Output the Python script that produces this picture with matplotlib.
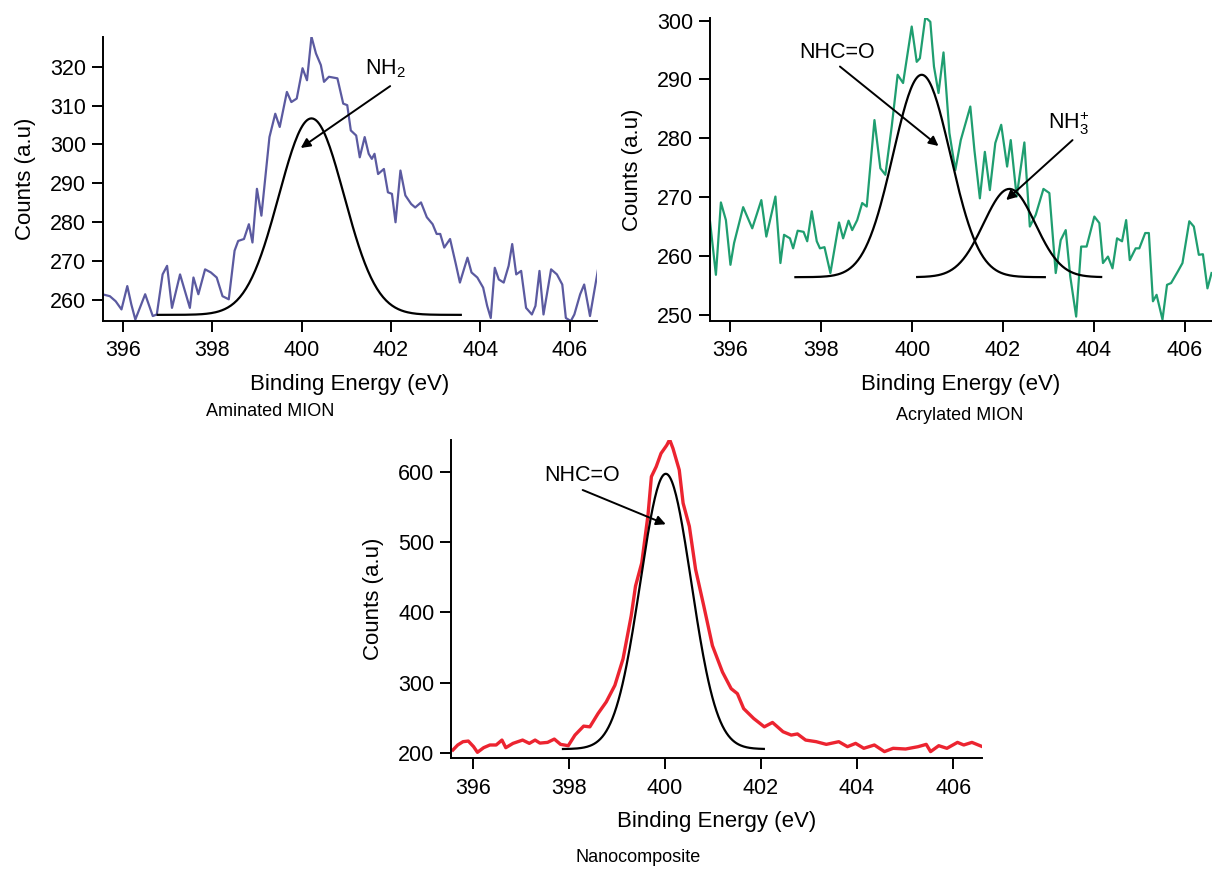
import numpy as np
import matplotlib
matplotlib.use("Agg")
import matplotlib.pyplot as plt

plt.rcParams['font.family'] = 'Liberation Sans'
plt.rcParams['mathtext.fontset'] = 'custom'
plt.rcParams['mathtext.rm'] = 'Liberation Sans'

# N 1s spectra, binding energy (eV) vs counts
amin_ev = [395.54, 395.71, 395.84, 395.97, 396.10, 396.19, 396.28, 396.50, 396.67, 396.76,
           396.89, 396.99, 397.10, 397.28, 397.50, 397.58, 397.69, 397.84, 397.97, 398.10,
           398.23, 398.37, 398.50, 398.58, 398.71, 398.82, 398.90, 399.00, 399.10, 399.28,
           399.41, 399.51, 399.67, 399.77, 399.89, 400.02, 400.12, 400.22, 400.32, 400.43,
           400.50, 400.61, 400.80, 400.93, 401.02, 401.10, 401.22, 401.30, 401.41, 401.50,
           401.57, 401.63, 401.71, 401.84, 401.93, 402.02, 402.10, 402.21, 402.32, 402.45,
           402.54, 402.67, 402.80, 402.93, 403.02, 403.10, 403.19, 403.32, 403.45, 403.54,
           403.63, 403.71, 403.80, 403.93, 404.06, 404.15, 404.23, 404.32, 404.41, 404.52,
           404.63, 404.71, 404.80, 404.91, 405.02, 405.15, 405.23, 405.32, 405.41, 405.58,
           405.71, 405.83, 405.91, 406.02, 406.10, 406.23, 406.32, 406.45, 406.63]
amin_counts = [261.5, 261.0, 259.7, 257.6, 263.6, 258.9, 255.0, 261.5, 255.9, 256.3,
               266.6, 268.8, 258.0, 266.6, 258.0, 265.8, 261.5, 267.9, 267.1, 265.8,
               261.0, 260.2, 272.7, 275.2, 275.7, 279.5, 274.8, 288.6, 281.7, 301.9,
               307.9, 304.5, 313.5, 310.9, 311.8, 319.6, 316.5, 327.7, 323.4, 320.4,
               316.1, 317.4, 317.0, 310.5, 310.1, 303.6, 302.3, 296.7, 301.9, 297.6,
               296.3, 297.6, 292.4, 293.7, 287.7, 287.3, 280.0, 293.3, 286.9, 284.7,
               283.8, 285.1, 281.3, 279.5, 277.0, 277.0, 273.5, 275.7, 269.2, 264.5,
               267.9, 270.9, 267.1, 265.8, 263.2, 258.5, 255.4, 268.3, 265.3, 264.5,
               268.8, 274.4, 266.6, 267.5, 258.0, 256.3, 258.5, 267.5, 256.3, 267.9,
               266.6, 264.0, 255.4, 254.6, 256.3, 261.5, 264.0, 255.9, 267.9]

acryl_ev = [395.55, 395.68, 395.79, 395.90, 396.00, 396.08, 396.28, 396.48, 396.68, 396.79,
            396.99, 397.10, 397.18, 397.31, 397.38, 397.48, 397.61, 397.69, 397.79, 397.90,
            397.97, 398.07, 398.20, 398.39, 398.48, 398.60, 398.68, 398.79, 398.90, 399.00,
            399.17, 399.30, 399.41, 399.55, 399.68, 399.80, 399.99, 400.10, 400.17, 400.29,
            400.40, 400.48, 400.58, 400.69, 400.82, 400.95, 401.07, 401.28, 401.37, 401.49,
            401.60, 401.71, 401.83, 401.96, 402.09, 402.17, 402.30, 402.47, 402.59, 402.72,
            402.89, 403.02, 403.16, 403.27, 403.38, 403.48, 403.61, 403.72, 403.84, 404.01,
            404.12, 404.20, 404.31, 404.41, 404.51, 404.62, 404.71, 404.79, 404.92, 405.00,
            405.13, 405.21, 405.30, 405.38, 405.51, 405.61, 405.70, 405.85, 405.95, 406.10,
            406.20, 406.31, 406.40, 406.50, 406.59]
acryl_counts = [265.9, 256.8, 269.1, 266.1, 258.5, 262.2, 268.3, 264.7, 269.5, 263.3,
                270.1, 258.8, 263.6, 263.0, 261.3, 264.3, 264.1, 262.5, 267.6, 262.5,
                261.3, 261.5, 257.1, 265.7, 263.0, 266.0, 264.4, 266.1, 269.0, 268.4,
                283.1, 274.9, 273.8, 282.0, 290.8, 289.4, 299.0, 293.0, 293.6, 300.6,
                299.8, 292.2, 287.7, 294.6, 280.9, 274.6, 279.7, 285.4, 278.0, 269.8,
                277.7, 271.2, 279.2, 282.3, 275.2, 279.7, 270.1, 279.3, 265.0, 267.0,
                271.4, 270.7, 257.1, 262.7, 264.4, 256.5, 249.7, 261.6, 261.6, 266.7,
                265.6, 258.8, 259.9, 257.9, 263.0, 262.5, 266.1, 259.3, 261.3, 261.3,
                263.9, 263.9, 252.3, 253.4, 249.2, 255.1, 255.4, 257.4, 258.8, 265.9,
                265.0, 260.2, 260.3, 254.5, 257.1]

nano_ev = [395.59, 395.69, 395.80, 395.91, 396.02, 396.10, 396.23, 396.36, 396.49, 396.61,
           396.69, 396.84, 397.04, 397.18, 397.30, 397.40, 397.56, 397.70, 397.83, 397.99,
           398.13, 398.31, 398.44, 398.61, 398.78, 398.96, 399.13, 399.30, 399.39, 399.52,
           399.65, 399.72, 399.82, 399.92, 400.04, 400.10, 400.17, 400.30, 400.38, 400.51,
           400.64, 400.81, 400.99, 401.20, 401.38, 401.51, 401.64, 401.85, 402.07, 402.24,
           402.46, 402.63, 402.76, 402.93, 403.15, 403.36, 403.62, 403.80, 403.97, 404.14,
           404.36, 404.57, 404.75, 405.01, 405.27, 405.44, 405.53, 405.70, 405.87, 406.09,
           406.22, 406.39, 406.61]
nano_counts = [204.7, 211.8, 216.5, 217.4, 209.4, 201.4, 208.0, 211.8, 211.8, 218.8,
               208.0, 214.1, 218.8, 214.1, 218.8, 214.5, 215.5, 220.2, 212.7, 210.8,
               225.9, 238.6, 237.6, 256.5, 272.9, 296.5, 334.1, 395.3, 437.6, 470.6,
               538.8, 592.9, 607.1, 625.9, 637.6, 645.6, 632.9, 602.4, 555.3, 522.4,
               461.2, 409.4, 352.9, 315.3, 291.8, 284.7, 263.5, 249.4, 237.6, 243.8,
               230.6, 225.9, 227.5, 218.8, 216.5, 212.7, 216.5, 209.4, 214.1, 207.1,
               211.8, 202.4, 207.1, 206.1, 209.4, 212.7, 202.4, 210.8, 207.1, 215.5,
               211.8, 215.5, 209.4]

# fitted components: (centre eV, height, width eV, baseline, start eV, end eV)
amin_fits = [(400.22, 306.7, 0.73, 256.2, 396.78, 403.56)]
acryl_fits = [(400.21, 290.8, 0.63, 256.4, 397.43, 402.92),
              (402.14, 271.4, 0.57, 256.4, 400.11, 404.16)]
nano_fits = [(400.02, 597.0, 0.53, 206.0, 397.88, 402.06)]

ev_ticks = [396, 398, 400, 402, 404, 406]

W, H = 1212, 875
fig = plt.figure(figsize=(W / 100, H / 100), dpi=100)


def px_axes(left, top, right, bottom):
    return fig.add_axes([left / W, 1 - bottom / H, (right - left) / W, (bottom - top) / H])


def style(ax, ylim, yticks):
    ax.set_xlim(395.55, 406.6)
    ax.set_ylim(*ylim)
    ax.set_xticks(ev_ticks)
    ax.set_yticks(yticks)
    for s in ['top', 'right']:
        ax.spines[s].set_visible(False)
    for s in ['left', 'bottom']:
        ax.spines[s].set_linewidth(1.4)
    ax.tick_params(direction='out', length=8, width=1.4, labelsize=15.5, pad=4)
    ax.tick_params(axis='x', pad=6)
    ax.set_xlabel('Binding Energy (eV)', fontsize=16, labelpad=9)
    ax.set_ylabel('Counts (a.u)', fontsize=16, labelpad=10)


def draw_fits(ax, fits):
    for c, h, w, base, x0, x1 in fits:
        x = np.linspace(x0, x1, 200)
        ax.plot(x, base + (h - base) * np.exp(-(x - c) ** 2 / (2 * w ** 2)), color='k', lw=1.6)


def arrow(ax, tail, head):
    ax.annotate('', xy=head, xytext=tail,
                arrowprops=dict(arrowstyle='-|>', color='k', lw=1.4, mutation_scale=14,
                                shrinkA=0, shrinkB=0))


# Aminated MION
ax1 = px_axes(102.7, 36.7, 596.7, 320.7)
ax1.plot(amin_ev, amin_counts, color='#5b5aa0', lw=1.6)
draw_fits(ax1, amin_fits)
style(ax1, (254.7, 327.7), [260, 270, 280, 290, 300, 310, 320])
ax1.text(401.87, 319.5, r'NH$_\mathregular{2}$', fontsize=15.5, ha='center', va='center')
arrow(ax1, (401.98, 315.0), (399.98, 299.1))

# Acrylated MION
ax2 = px_axes(710, 18.3, 1212, 320.7)
ax2.plot(acryl_ev, acryl_counts, color='#1f9e70', lw=1.6)
draw_fits(ax2, acryl_fits)
style(ax2, (249.0, 300.4), [250, 260, 270, 280, 290, 300])
ax2.text(398.35, 294.6, 'NHC=O', fontsize=15.5, ha='center', va='center')
arrow(ax2, (398.41, 292.2), (400.58, 278.7))
ax2.text(403.45, 282.6, r'NH$_\mathregular{3}^\mathregular{+}$', fontsize=15.5, ha='center', va='center')
arrow(ax2, (403.53, 279.7), (402.07, 269.5))

# Nanocomposite
ax3 = px_axes(451, 440, 982, 758.3)
ax3.plot(nano_ev, nano_counts, color='#ec2430', lw=2.4)
draw_fits(ax3, nano_fits)
style(ax3, (192.9, 645), [200, 300, 400, 500, 600])
ax3.text(398.27, 595, 'NHC=O', fontsize=15.5, ha='center', va='center')
arrow(ax3, (398.29, 574), (400.02, 525.3))

fig.text(270 / W, 1 - 412 / H, 'Aminated MION', fontsize=13, ha='center', va='center')
fig.text(960 / W, 1 - 416 / H, 'Acrylated MION', fontsize=13, ha='center', va='center')
fig.text(638 / W, 1 - 858 / H, 'Nanocomposite', fontsize=13, ha='center', va='center')

fig.savefig('out.png', dpi=100, facecolor='white')
